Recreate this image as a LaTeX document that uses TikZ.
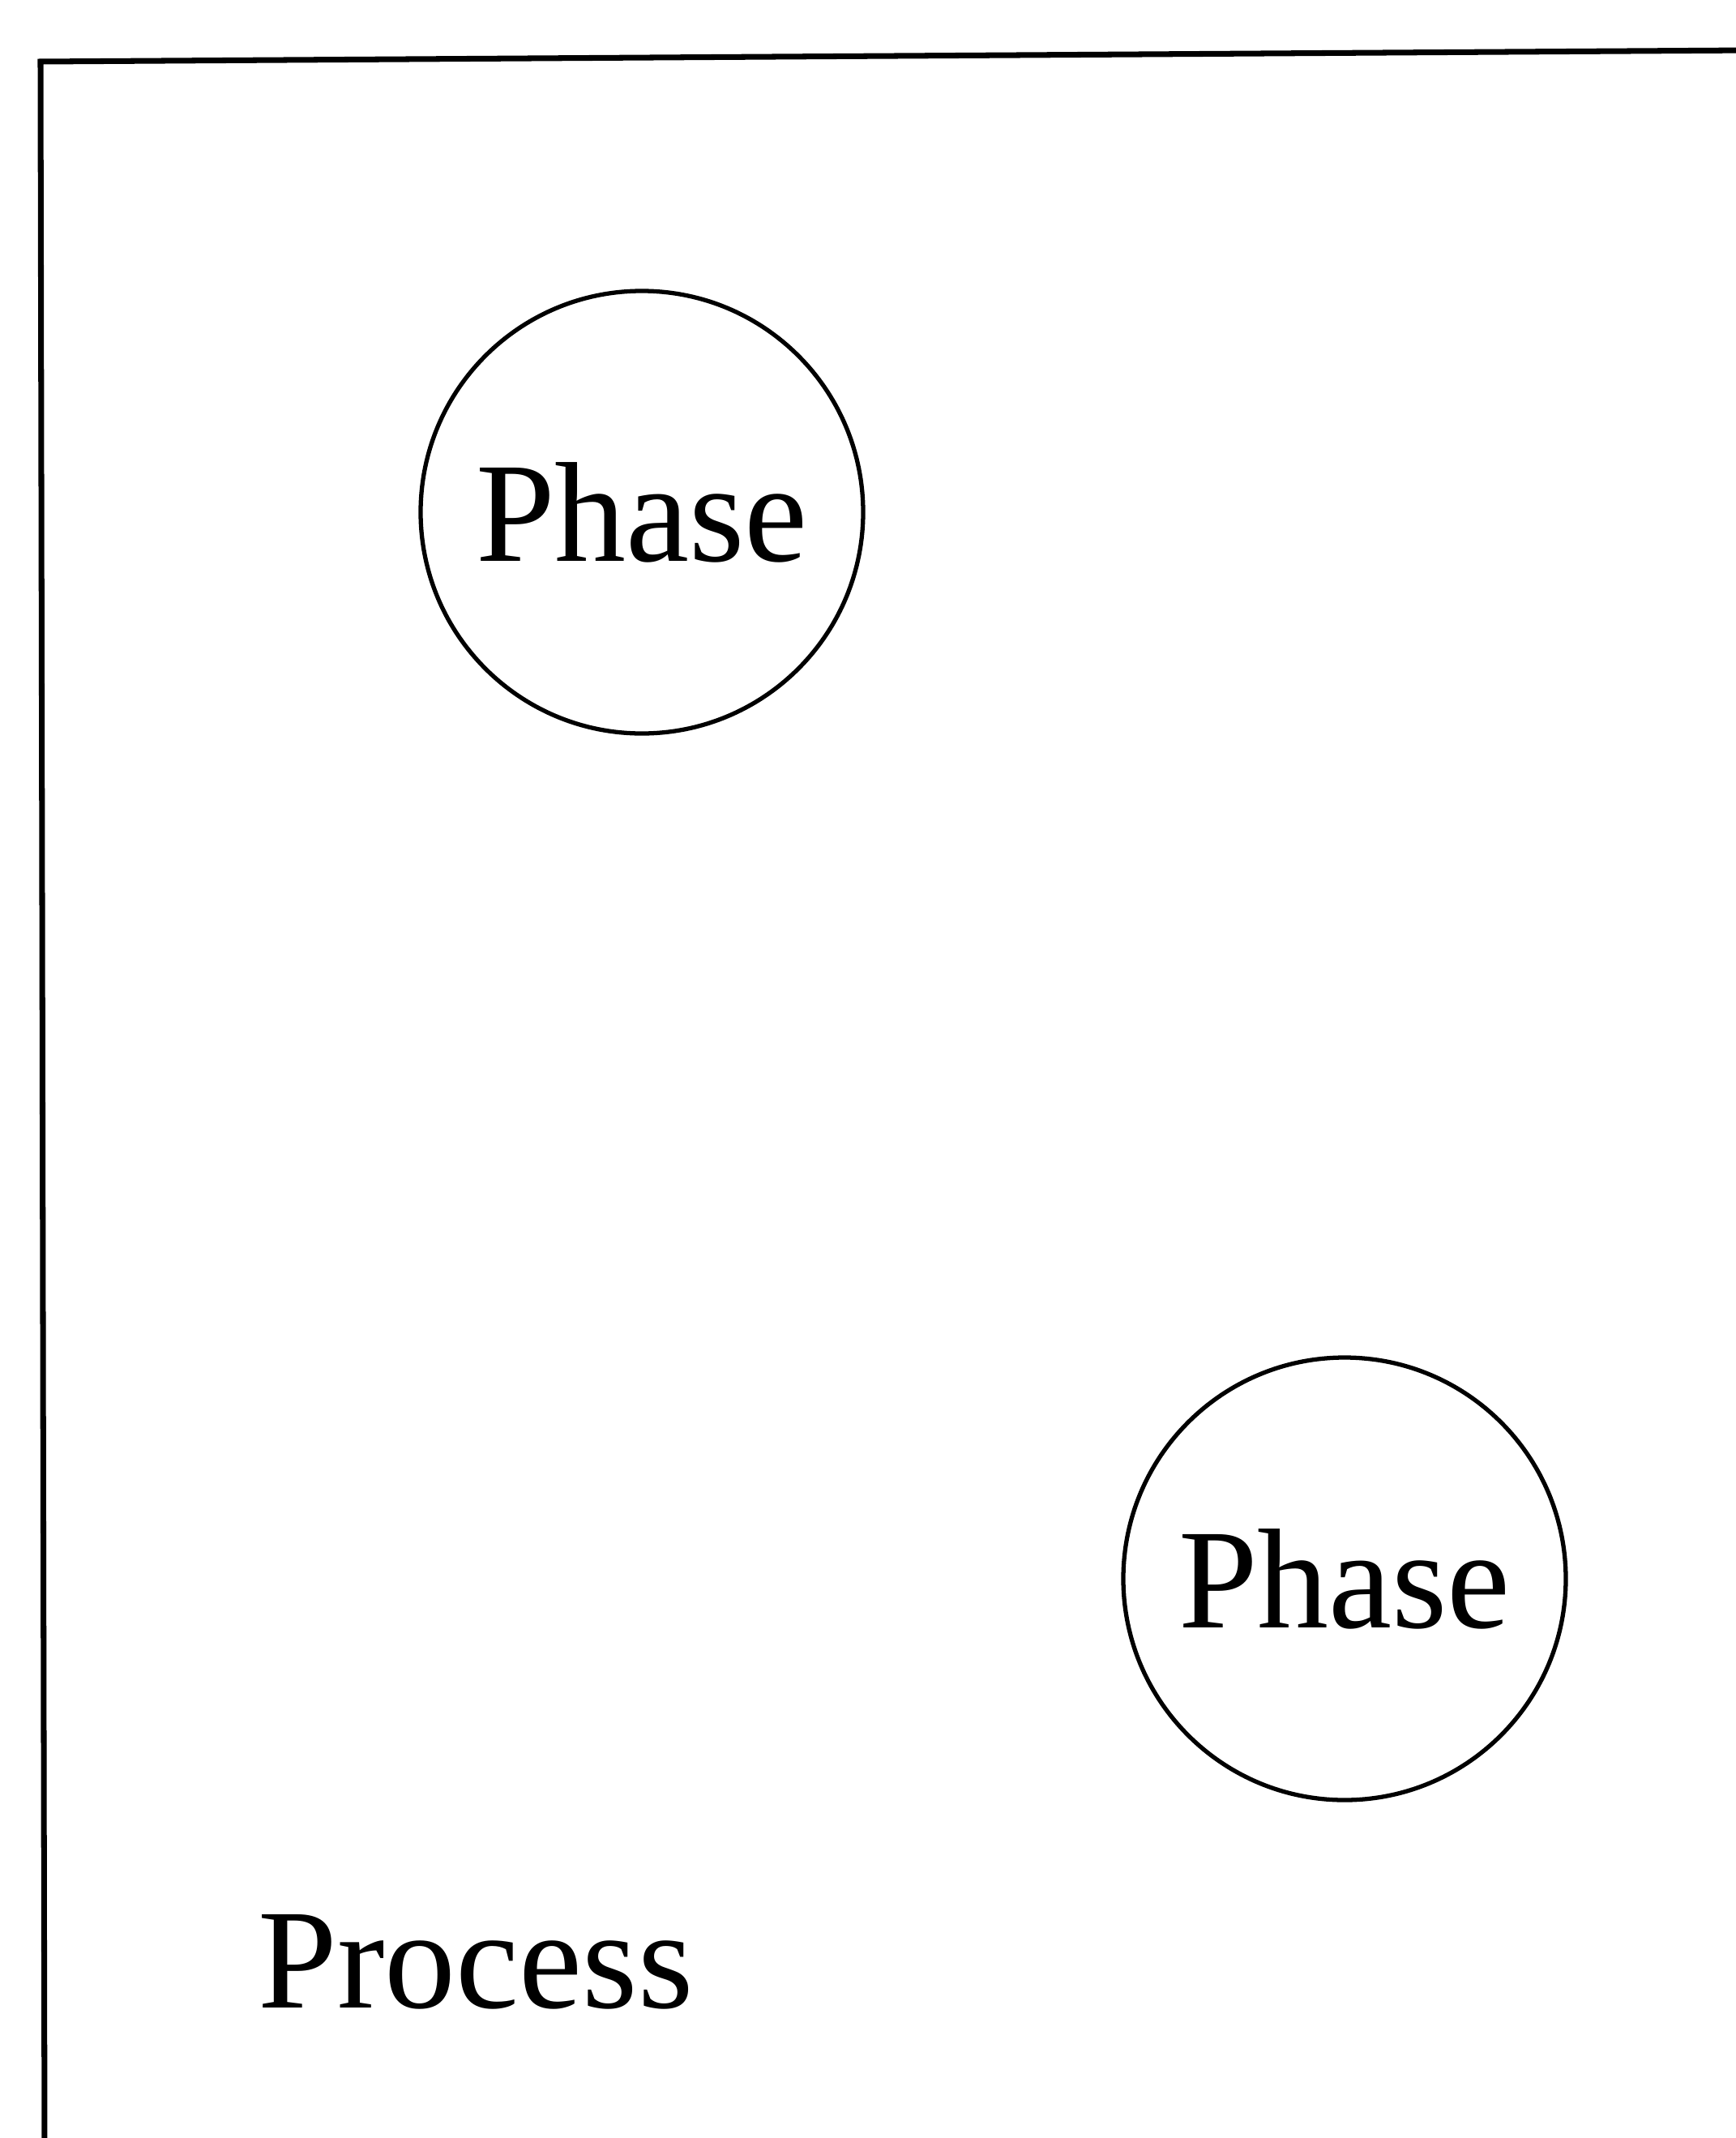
\documentclass[tikz,border=0pt]{standalone}
\usepackage{fontspec}
\setmainfont{Liberation Serif}
\begin{document}
\begin{tikzpicture}[x=1cm,y=1cm,
  phasenode/.style={draw, circle, line width=1.5pt, minimum size=5.46cm, inner sep=0pt,
    font=\fontsize{50}{60}\selectfont},
  labeltext/.style={font=\fontsize{50}{60}\selectfont, inner sep=0pt},
  frameline/.style={line width=2pt}]
\useasboundingbox (0,0) rectangle (21.41,-26.38);
% outer frame (right and bottom edges lie outside the picture)
\draw[frameline] (21.60,-0.62) -- (0.50,-0.76) -- (0.55,-26.60);
\node[phasenode] (p1) at (7.92,-6.32) {Phase};
\node[phasenode] (p2) at (16.59,-19.48) {Phase};
\node[labeltext, anchor=base west] (proc) at (3.18,-24.77) {Process};
\end{tikzpicture}
\end{document}
